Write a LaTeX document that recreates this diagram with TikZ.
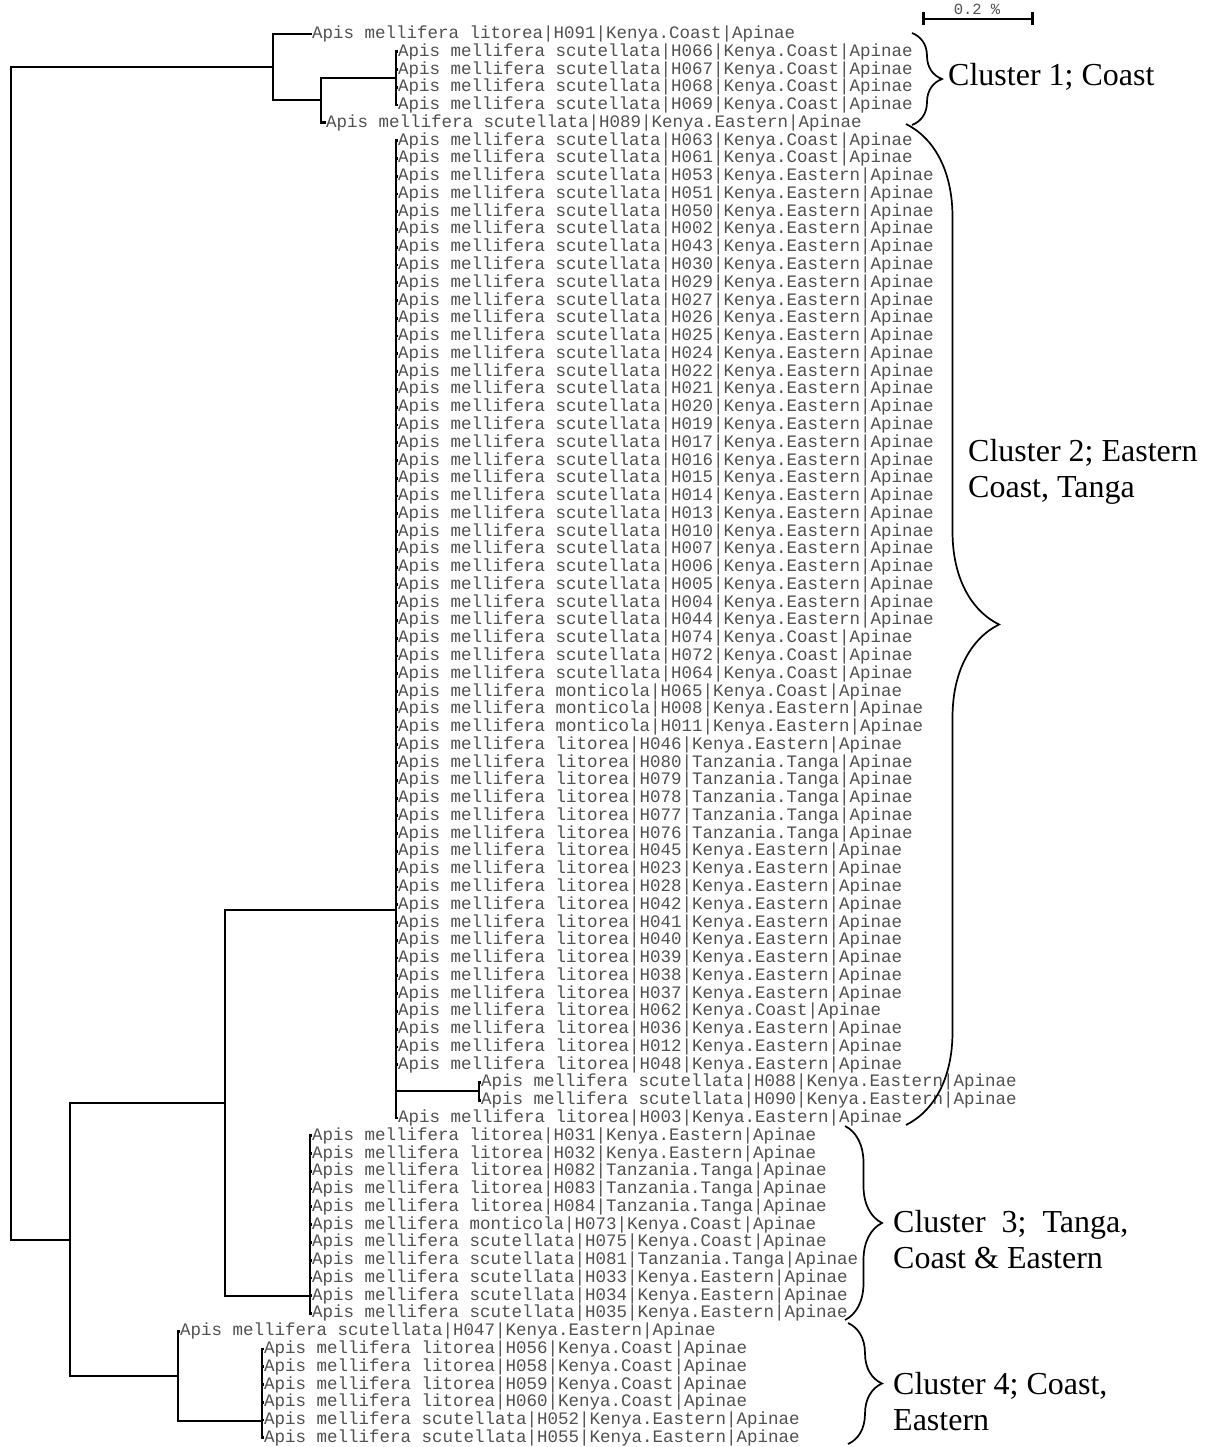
\documentclass[tikz,border=0pt]{standalone}
\usepackage{fontspec}
\setmainfont{Liberation Serif}
\newfontfamily\leaffont{Liberation Mono}
\usetikzlibrary{decorations.pathreplacing,arrows.meta}
\definecolor{leafgray}{RGB}{80,80,80}
\tikzset{
leaf/.style={anchor=west,inner sep=0pt,text=leafgray,font=\leaffont\fontsize{17.5}{20}\selectfont},
branch/.style={draw=black,line width=2.8pt,line cap=rect},
leafbranch/.style={draw=black,line width=2.8pt,line cap=butt},
clusterbrace/.style={decorate,draw=black,line width=1.7pt},
clusterlabel/.style={anchor=west,inner sep=0pt,align=left,font=\fontsize{32}{36}\selectfont},
scalebar/.style={line width=2.8pt,{Bar[width=13pt]}-{Bar[width=13pt]}},
scalelabel/.style={inner sep=0pt,text=leafgray,font=\leaffont\fontsize{15.5}{17}\selectfont}
}

\begin{document}
\begin{tikzpicture}[x=1pt,y=-1pt]
\useasboundingbox (0,0) rectangle (1214,1447);
\foreach \xl/\lbl [count=\i from 0] in {
312/litorea|H091|Kenya.Coast,
398/scutellata|H066|Kenya.Coast,
398/scutellata|H067|Kenya.Coast,
398/scutellata|H068|Kenya.Coast,
398/scutellata|H069|Kenya.Coast,
326/scutellata|H089|Kenya.Eastern,
398/scutellata|H063|Kenya.Coast,
398/scutellata|H061|Kenya.Coast,
398/scutellata|H053|Kenya.Eastern,
398/scutellata|H051|Kenya.Eastern,
398/scutellata|H050|Kenya.Eastern,
398/scutellata|H002|Kenya.Eastern,
398/scutellata|H043|Kenya.Eastern,
398/scutellata|H030|Kenya.Eastern,
398/scutellata|H029|Kenya.Eastern,
398/scutellata|H027|Kenya.Eastern,
398/scutellata|H026|Kenya.Eastern,
398/scutellata|H025|Kenya.Eastern,
398/scutellata|H024|Kenya.Eastern,
398/scutellata|H022|Kenya.Eastern,
398/scutellata|H021|Kenya.Eastern,
398/scutellata|H020|Kenya.Eastern,
398/scutellata|H019|Kenya.Eastern,
398/scutellata|H017|Kenya.Eastern,
398/scutellata|H016|Kenya.Eastern,
398/scutellata|H015|Kenya.Eastern,
398/scutellata|H014|Kenya.Eastern,
398/scutellata|H013|Kenya.Eastern,
398/scutellata|H010|Kenya.Eastern,
398/scutellata|H007|Kenya.Eastern,
398/scutellata|H006|Kenya.Eastern,
398/scutellata|H005|Kenya.Eastern,
398/scutellata|H004|Kenya.Eastern,
398/scutellata|H044|Kenya.Eastern,
398/scutellata|H074|Kenya.Coast,
398/scutellata|H072|Kenya.Coast,
398/scutellata|H064|Kenya.Coast,
398/monticola|H065|Kenya.Coast,
398/monticola|H008|Kenya.Eastern,
398/monticola|H011|Kenya.Eastern,
398/litorea|H046|Kenya.Eastern,
398/litorea|H080|Tanzania.Tanga,
398/litorea|H079|Tanzania.Tanga,
398/litorea|H078|Tanzania.Tanga,
398/litorea|H077|Tanzania.Tanga,
398/litorea|H076|Tanzania.Tanga,
398/litorea|H045|Kenya.Eastern,
398/litorea|H023|Kenya.Eastern,
398/litorea|H028|Kenya.Eastern,
398/litorea|H042|Kenya.Eastern,
398/litorea|H041|Kenya.Eastern,
398/litorea|H040|Kenya.Eastern,
398/litorea|H039|Kenya.Eastern,
398/litorea|H038|Kenya.Eastern,
398/litorea|H037|Kenya.Eastern,
398/litorea|H062|Kenya.Coast,
398/litorea|H036|Kenya.Eastern,
398/litorea|H012|Kenya.Eastern,
398/litorea|H048|Kenya.Eastern,
481/scutellata|H088|Kenya.Eastern,
481/scutellata|H090|Kenya.Eastern,
398/litorea|H003|Kenya.Eastern,
312/litorea|H031|Kenya.Eastern,
312/litorea|H032|Kenya.Eastern,
312/litorea|H082|Tanzania.Tanga,
312/litorea|H083|Tanzania.Tanga,
312/litorea|H084|Tanzania.Tanga,
312/monticola|H073|Kenya.Coast,
312/scutellata|H075|Kenya.Coast,
312/scutellata|H081|Tanzania.Tanga,
312/scutellata|H033|Kenya.Eastern,
312/scutellata|H034|Kenya.Eastern,
312/scutellata|H035|Kenya.Eastern,
180/scutellata|H047|Kenya.Eastern,
264/litorea|H056|Kenya.Coast,
264/litorea|H058|Kenya.Coast,
264/litorea|H059|Kenya.Coast,
264/litorea|H060|Kenya.Coast,
264/scutellata|H052|Kenya.Eastern,
264/scutellata|H055|Kenya.Eastern}
\node[leaf] (leaf\i) at (\xl,{34+17.77*\i}) {Apis mellifera \lbl|Apinae};

\coordinate (root) at (11,653);
\coordinate (nA) at (273,67);
\coordinate (nA2) at (321,100);
\coordinate (nC1) at (396,78);
\coordinate (nB) at (70,1240);
\coordinate (nAB) at (225,1103);
\coordinate (nC2) at (396,910);
\coordinate (nH) at (479,1091);
\coordinate (nC3) at (310,1296);
\coordinate (nC4) at (178,1376);
\coordinate (nD) at (262,1421);

\draw[branch] (root) |- (nA);
\draw[branch] (root) |- (nB);
\draw[leafbranch] (nA) |- (leaf0.west);
\draw[branch] (nA) |- (nA2);
\draw[branch] (nA2) |- (nC1);
\draw[leafbranch] (nA2) |- (leaf5.west);
\foreach \i in {1,...,4} \draw[leafbranch] (nC1) |- (leaf\i.west);
\draw[branch] (nB) |- (nAB);
\draw[branch] (nB) |- (nC4);
\draw[branch] (nAB) |- (nC2);
\draw[branch] (nAB) |- (nC3);
\foreach \i in {6,...,58} \draw[leafbranch] (nC2) |- (leaf\i.west);
\draw[leafbranch] (nC2) |- (leaf61.west);
\draw[branch] (nC2) |- (nH);
\foreach \i in {59,60} \draw[leafbranch] (nH) |- (leaf\i.west);
\foreach \i in {62,...,72} \draw[leafbranch] (nC3) |- (leaf\i.west);
\draw[leafbranch] (nC4) |- (leaf73.west);
\draw[branch] (nC4) |- (nD);
\foreach \i in {74,...,79} \draw[leafbranch] (nD) |- (leaf\i.west);

\coordinate (b1top) at (912,33);
\coordinate (b1bot) at (912,125);
\coordinate (b2top) at (906,124);
\coordinate (b2bot) at (906,1125);
\coordinate (b3top) at (845,1126);
\coordinate (b3bot) at (845,1320);
\coordinate (b4top) at (848,1323);
\coordinate (b4bot) at (848,1444);
\draw[clusterbrace,decoration={brace,amplitude=30pt}] (b1top) -- (b1bot);
\draw[clusterbrace,decoration={brace,amplitude=93pt}] (b2top) -- (b2bot);
\draw[clusterbrace,decoration={brace,amplitude=37pt}] (b3top) -- (b3bot);
\draw[clusterbrace,decoration={brace,amplitude=34pt}] (b4top) -- (b4bot);
\node[clusterlabel] (lab1) at (948,77) {Cluster 1; Coast};
\node[clusterlabel] (lab2) at (968,472) {Cluster 2; Eastern\\Coast, Tanga};
\node[clusterlabel] (lab3) at (893,1240) {Cluster\ \ 3;\ \ Tanga,\\Coast \& Eastern};
\node[clusterlabel] (lab4) at (893,1402) {Cluster 4; Coast,\\Eastern};

\coordinate (sbL) at (922,19);
\coordinate (sbR) at (1034,19);
\draw[scalebar] (sbL) -- (sbR);
\node[scalelabel] (sbtext) at (977,9) {0.2 \%};
\end{tikzpicture}
\end{document}
